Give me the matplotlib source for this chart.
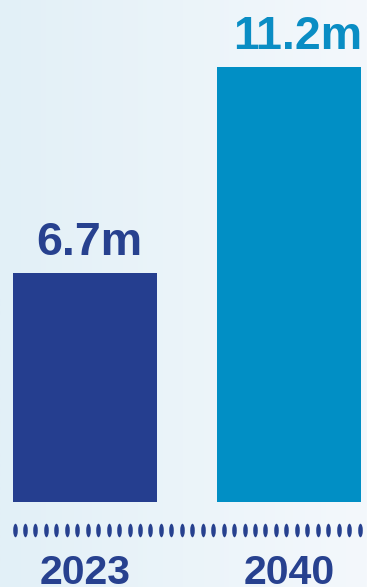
import numpy as np
import matplotlib
matplotlib.use("Agg")
import matplotlib.pyplot as plt
from matplotlib.path import Path
from matplotlib.colors import LinearSegmentedColormap
import matplotlib.transforms as mtransforms

years = ["2023", "2040"]
values = [6.7, 11.2]
labels = ["6.7m", "11.2m"]
bar_colors = ["#253E8F", "#018FC5"]
label_colors = ["#27418F", "#0A8DC4"]

plt.rcParams['font.family'] = ['Liberation Sans', 'DejaVu Sans']

W, H = 367, 587
fig = plt.figure(figsize=(W / 100, H / 100), dpi=100)

# background gradient
bg = fig.add_axes([0, 0, 1, 1], zorder=0)
grad = np.linspace(0, 1, 256).reshape(1, -1)
cmap = LinearSegmentedColormap.from_list("bg", ["#E2F0F7", "#F4F8FC"])
bg.imshow(grad, aspect="auto", cmap=cmap, extent=[0, 1, 0, 1])
bg.axis("off")

ax = fig.add_axes([0, 85 / H, 1, 502 / H], zorder=1)
ax.patch.set_alpha(0)
x = np.arange(len(values))
ax.bar(x, values, width=0.706, color=bar_colors, zorder=2)
ax.set_xlim(-85 / 204, 1 + 78 / 204)
ax.set_ylim(1.7, 1.7 + 502 / 45.79)
ax.axis("off")

label_dx = [3, 6.5]
for xi, v, lab, c, ox in zip(x, values, labels, label_colors, label_dx):
    ax.annotate(lab, (xi, v), xytext=(ox, 13), textcoords="offset points",
                ha="center", va="baseline", fontsize=33.5, fontweight="bold",
                color=c)

# dotted separator
trans = mtransforms.blended_transform_factory(ax.transData, ax.transAxes)
circ = Path.unit_circle()
ell = Path(circ.vertices * np.array([0.34, 1.0]), circ.codes)
dx = np.linspace(14.5 / 204 - 85 / 204, 1 + (359.5 - 289) / 204, 34)
ax.plot(dx, np.full_like(dx, -28 / 502), linestyle="none", marker=ell,
        markersize=13.5 * 0.72, color="#27418F", markeredgewidth=0,
        transform=trans, clip_on=False)

for xi, y in zip(x, years):
    ax.text(xi, -82.5 / 502, y, transform=trans, ha="center", va="baseline",
            fontsize=29.5, fontweight="bold", color="#27418F", clip_on=False)

fig.savefig("out.png", dpi=100)
